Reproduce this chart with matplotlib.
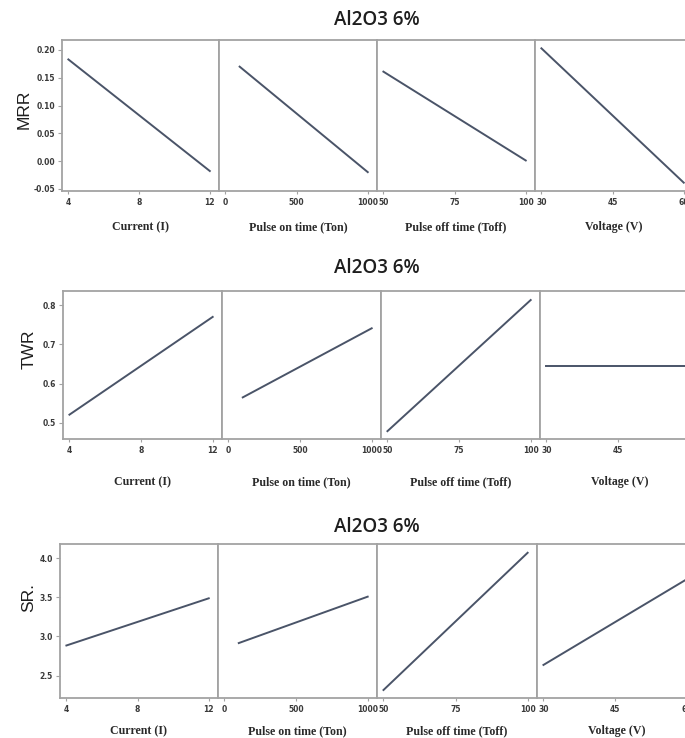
import numpy as np
import matplotlib
matplotlib.use("Agg")
import matplotlib.pyplot as plt
from matplotlib.ticker import FixedLocator, FormatStrFormatter

# ---- data ----
title = "Al2O3 6%"
factors = ["Current (I)", "Pulse on time (Ton)", "Pulse off time (Toff)", "Voltage (V)"]
x_levels = [[4, 12], [100, 1000], [50, 100], [30, 60]]
x_ticks = [[4, 8, 12], [0, 500, 1000], [50, 75, 100], [30, 45, 60]]

responses = ["MRR", "TWR", "SR."]
mrr = [[0.183, -0.018], [0.170, -0.020], [0.161, 0.001], [0.203, -0.039]]
twr = [[0.521, 0.770], [0.565, 0.741], [0.479, 0.813], [0.646, 0.646]]
sr = [[2.885, 3.487], [2.916, 3.508], [2.317, 4.068], [2.637, 3.730]]

mrr_ticks = [-0.05, 0.00, 0.05, 0.10, 0.15, 0.20]
twr_ticks = [0.5, 0.6, 0.7, 0.8]
sr_ticks = [2.5, 3.0, 3.5, 4.0]

# ---- layout ----
W, H = 685, 738
fig = plt.figure(figsize=(W / 100, H / 100), dpi=100)
fig.patch.set_facecolor("white")

# (top, bottom, panel edges) in pixels
rows = [
    (40, 191, [62, 219, 377, 535, 693]),
    (291, 439, [63, 222, 381, 540, 699]),
    (544, 698, [60, 218, 377, 537, 696]),
]
ylims = [(-0.054, 0.218), (0.459, 0.836), (2.215, 4.18)]
yfmts = ["%.2f", "%.1f", "%.1f"]
title_y = [20, 268, 527]
ylab_pos = [(24, 109), (29, 349), (29, 598)]
xlab_y = [227, 482, 731]

spine_c = "#a3a3a3"
line_c = "#4a5468"
tick_c = "#3a3a3a"

data = [mrr, twr, sr]
yticks = [mrr_ticks, twr_ticks, sr_ticks]

for r in range(3):
    top, bot, edges = rows[r]
    for c in range(4):
        l, rr = edges[c], edges[c + 1]
        ax = fig.add_axes([l / W, 1 - bot / H, (rr - l) / W, (bot - top) / H])
        ax.plot(x_levels[c], data[r][c], color=line_c, lw=1.4)
        t0, t1 = x_ticks[c][0], x_ticks[c][-1]
        span = t1 - t0
        ax.set_xlim(t0 - 0.045 * span, t1 + 0.065 * span)
        ax.set_ylim(*ylims[r])
        ax.xaxis.set_major_locator(FixedLocator(x_ticks[c]))
        ax.yaxis.set_major_locator(FixedLocator(yticks[r]))
        ax.yaxis.set_major_formatter(FormatStrFormatter(yfmts[r]))
        for s in ax.spines.values():
            s.set_color(spine_c)
            s.set_linewidth(1.3)
        ax.tick_params(axis="x", direction="out", length=2.5, width=0.8,
                       color=spine_c, labelsize=5.5, labelcolor=tick_c, pad=2.5)
        ax.tick_params(axis="y", direction="out", length=3, width=0.8,
                       color=spine_c, labelsize=5.5, labelcolor=tick_c, pad=2)
        for lab in ax.get_xticklabels() + ax.get_yticklabels():
            lab.set_fontweight("bold")
        if c > 0:
            ax.tick_params(axis="y", left=False, labelleft=False)
        fig.text(((l + rr) / 2) / W, 1 - xlab_y[r] / H, factors[c],
                 ha="center", va="center", family="Liberation Serif",
                 fontweight="bold", fontsize=8.6, color="#2a2a2a")

    fig.text(377 / W, 1 - title_y[r] / H, title, ha="center", va="center",
             family="Open Sans", fontweight="semibold", fontsize=13.5, color="#1e1e1e")
    fig.text(ylab_pos[r][0] / W, 1 - ylab_pos[r][1] / H, responses[r], rotation=90,
             ha="center", va="center", family="Liberation Sans", fontsize=12.5,
             color="#1e1e1e")

fig.savefig("out.png", dpi=100)
